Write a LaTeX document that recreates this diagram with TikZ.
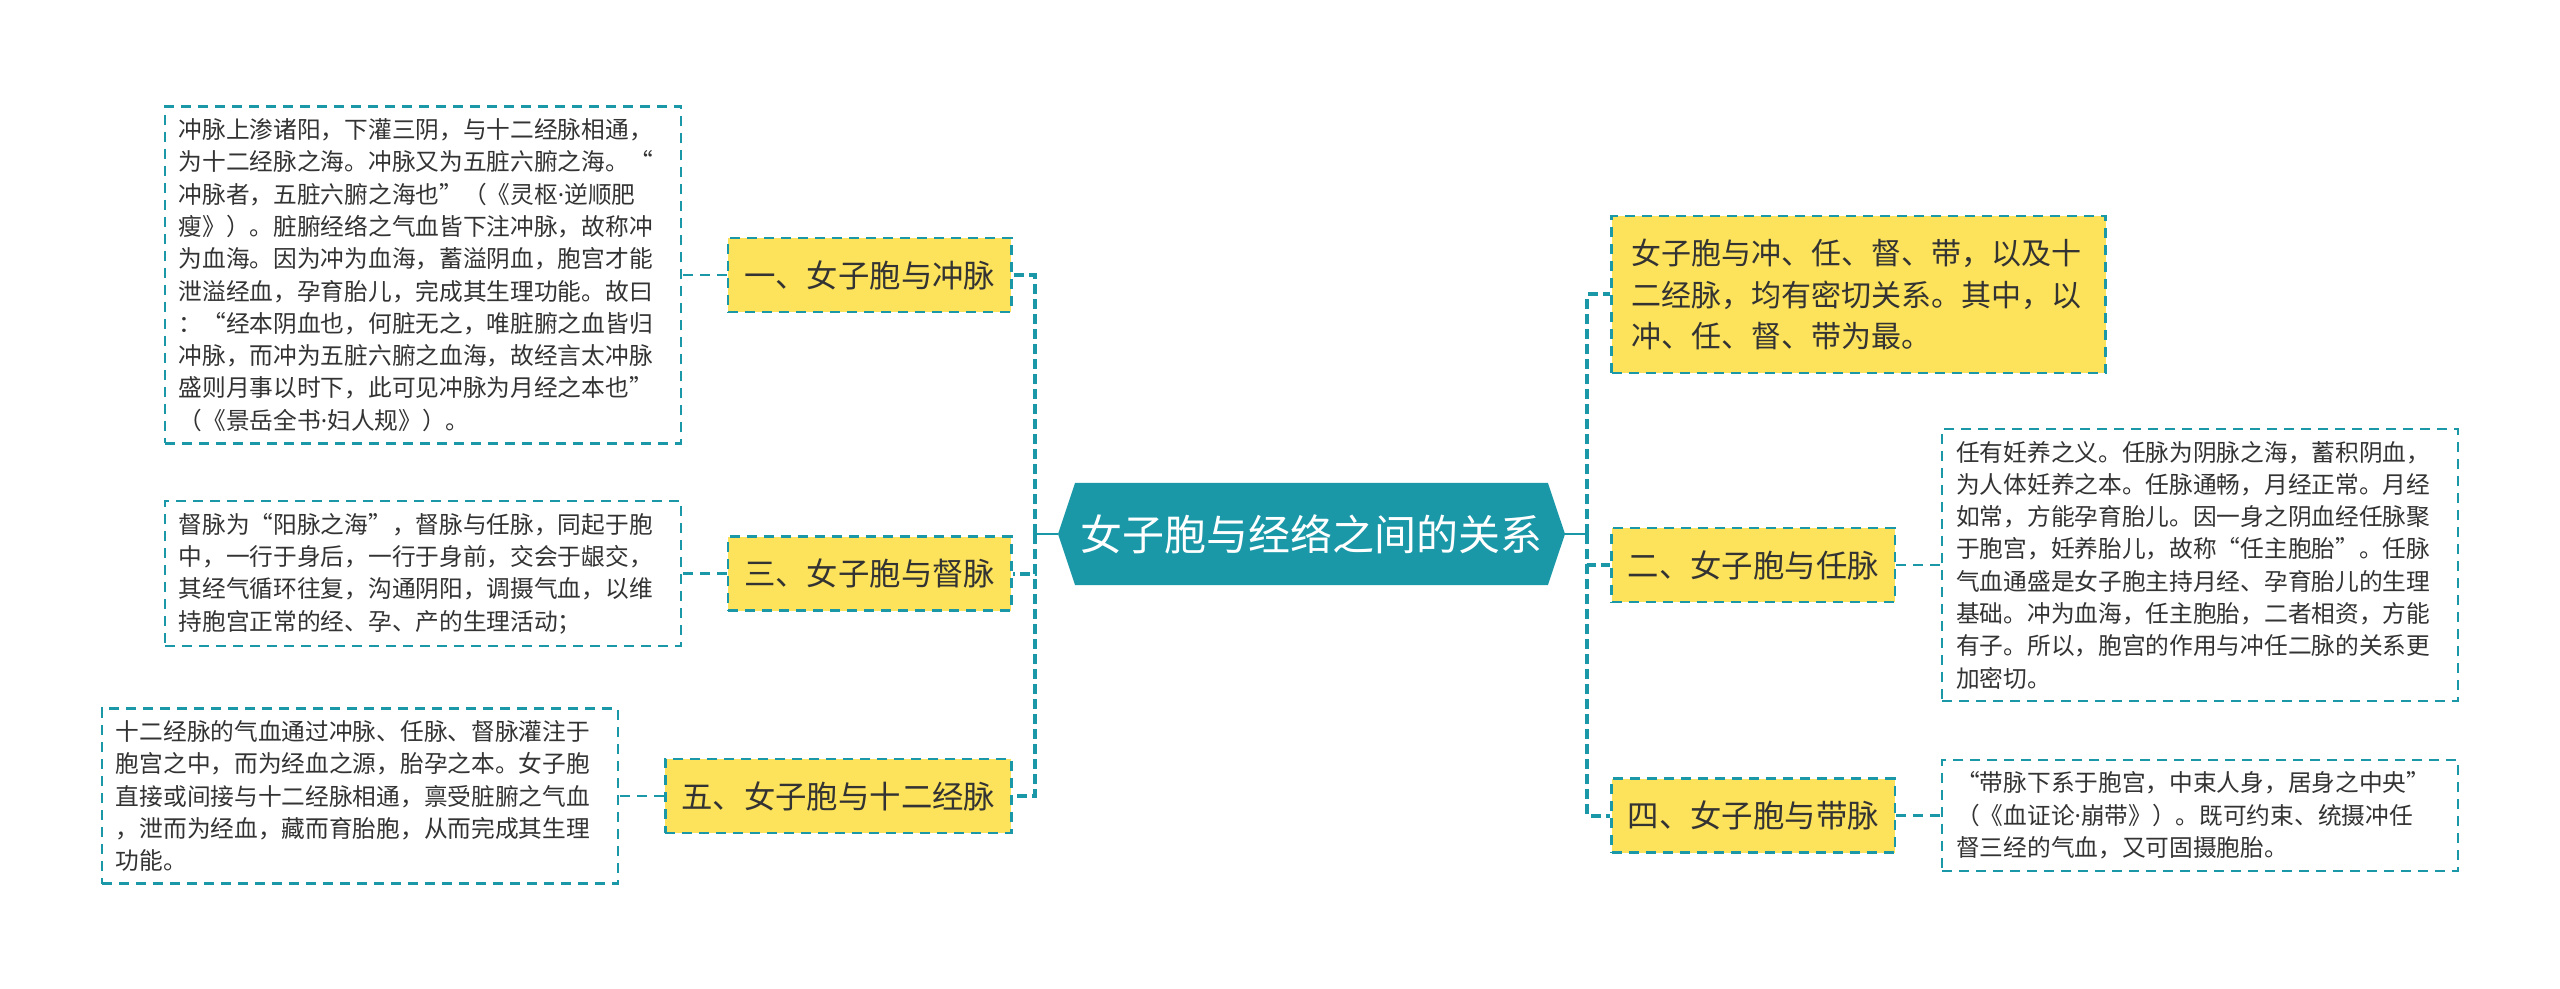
\documentclass[tikz,border=0pt]{standalone}
\usepackage{fontspec}
\usepackage{xcolor}
\usepackage{tikz}
\usetikzlibrary{positioning,shapes.symbols}
\setmainfont{Noto Sans CJK SC}
\newfontfamily\latinfont{Noto Sans}
\newcommand{\mdot}{{\latinfont ·}}

\definecolor{mapteal}{HTML}{1A98A8}
\definecolor{mapyellow}{HTML}{FDE35B}
\definecolor{inkgray}{HTML}{333333}

\begin{document}
\begin{tikzpicture}[
    node distance=22.5pt,
    topic/.style={signal, signal to=west and east, signal pointer angle=143, fill=mapteal, text=white, minimum width=253.5pt, minimum height=51pt, inner xsep=0pt, font=\fontsize{21pt}{25pt}\selectfont},
    branch/.style={rectangle, draw=mapteal, fill=mapyellow, line width=1.2pt, dash pattern=on 5pt off 3.5pt, text=inkgray, minimum height=37pt, inner xsep=8pt, font=\fontsize{15.7pt}{19pt}\selectfont},
    summary/.style={branch, text width=227pt, align=left, inner xsep=10pt, minimum height=78.5pt, font=\fontsize{15pt}{20.85pt}\selectfont},
    note/.style={rectangle, draw=mapteal, fill=white, line width=1.2pt, dash pattern=on 5pt off 3.5pt, text=inkgray, text width=244pt, align=left, inner xsep=7pt, inner ysep=6pt, font=\fontsize{11.85pt}{16.15pt}\selectfont},
    stem/.style={draw=mapteal, line width=1.3pt},
    trunk/.style={draw=mapteal, line width=2pt, dash pattern=on 5pt off 2.5pt},
    twig/.style={draw=mapteal, line width=1.2pt, dash pattern=on 5pt off 3.5pt}
]
\useasboundingbox (0,0) rectangle (1280pt,-494.5pt);

\node[topic] (root) at (655.75pt,-267pt) {女子胞与经络之间的关系};

% left side
\node[branch, left=of root, yshift=129.5pt] (chong) {一、女子胞与冲脉};
\node[branch, left=of root, yshift=-19.75pt] (du) {三、女子胞与督脉};
\node[branch, left=of root, yshift=-131pt] (jing) {五、女子胞与十二经脉};

\node[note, left=of chong] (chongtxt) {冲脉上渗诸阳，下灌三阴，与十二经脉相通，\\
为十二经脉之海。冲脉又为五脏六腑之海。“\\
冲脉者，五脏六腑之海也”（《灵枢\mdot 逆顺肥\\
瘦》）。脏腑经络之气血皆下注冲脉，故称冲\\
为血海。因为冲为血海，蓄溢阴血，胞宫才能\\
泄溢经血，孕育胎儿，完成其生理功能。故曰\\
：“经本阴血也，何脏无之，唯脏腑之血皆归\\
冲脉，而冲为五脏六腑之血海，故经言太冲脉\\
盛则月事以时下，此可见冲脉为月经之本也”\\
（《景岳全书\mdot 妇人规》）。};
\node[note, left=of du] (dutxt) {督脉为“阳脉之海”，督脉与任脉，同起于胞\\
中，一行于身后，一行于身前，交会于龈交，\\
其经气循环往复，沟通阴阳，调摄气血，以维\\
持胞宫正常的经、孕、产的生理活动；};
\node[note, left=of jing] (jingtxt) {十二经脉的气血通过冲脉、任脉、督脉灌注于\\
胞宫之中，而为经血之源，胎孕之本。女子胞\\
直接或间接与十二经脉相通，禀受脏腑之气血\\
，泄而为经血，藏而育胎胞，从而完成其生理\\
功能。};

% right side
\node[summary, right=of root, yshift=119.75pt] (intro) {女子胞与冲、任、督、带，以及十\\
二经脉，均有密切关系。其中，以\\
冲、任、督、带为最。};
\node[branch, right=of root, yshift=-15.5pt] (ren) {二、女子胞与任脉};
\node[branch, right=of root, yshift=-140.75pt] (dai) {四、女子胞与带脉};

\node[note, right=of ren] (rentxt) {任有妊养之义。任脉为阴脉之海，蓄积阴血，\\
为人体妊养之本。任脉通畅，月经正常。月经\\
如常，方能孕育胎儿。因一身之阴血经任脉聚\\
于胞宫，妊养胎儿，故称“任主胞胎”。任脉\\
气血通盛是女子胞主持月经、孕育胎儿的生理\\
基础。冲为血海，任主胞胎，二者相资，方能\\
有子。所以，胞宫的作用与冲任二脉的关系更\\
加密切。};
\node[note, right=of dai] (daitxt) {“带脉下系于胞宫，中束人身，居身之中央”\\
（《血证论\mdot 崩带》）。既可约束、统摄冲任\\
督三经的气血，又可固摄胞胎。};

\draw[stem] (root.west) -- ++(-11.25pt,0) coordinate (lhub);
\draw[stem] (root.east) -- ++(11pt,0) coordinate (rhub);
\draw[stem] ([yshift=5pt]lhub) -- ([yshift=-5pt]lhub);
\draw[stem] ([yshift=5pt]rhub) -- ([yshift=-5pt]rhub);

\draw[trunk] (lhub) |- (chong);
\draw[trunk] (lhub) |- (du);
\draw[trunk] (lhub) |- (jing);
\draw[trunk] (rhub) |- (intro);
\draw[trunk] (rhub) |- (ren);
\draw[trunk] (rhub) |- (dai);

\draw[twig] (chong) -- (chongtxt);
\draw[twig] (du) -- (dutxt);
\draw[twig] (jing) -- (jingtxt);
\draw[twig] (ren) -- (rentxt);
\draw[twig] (dai) -- (daitxt);

\end{tikzpicture}
\end{document}
